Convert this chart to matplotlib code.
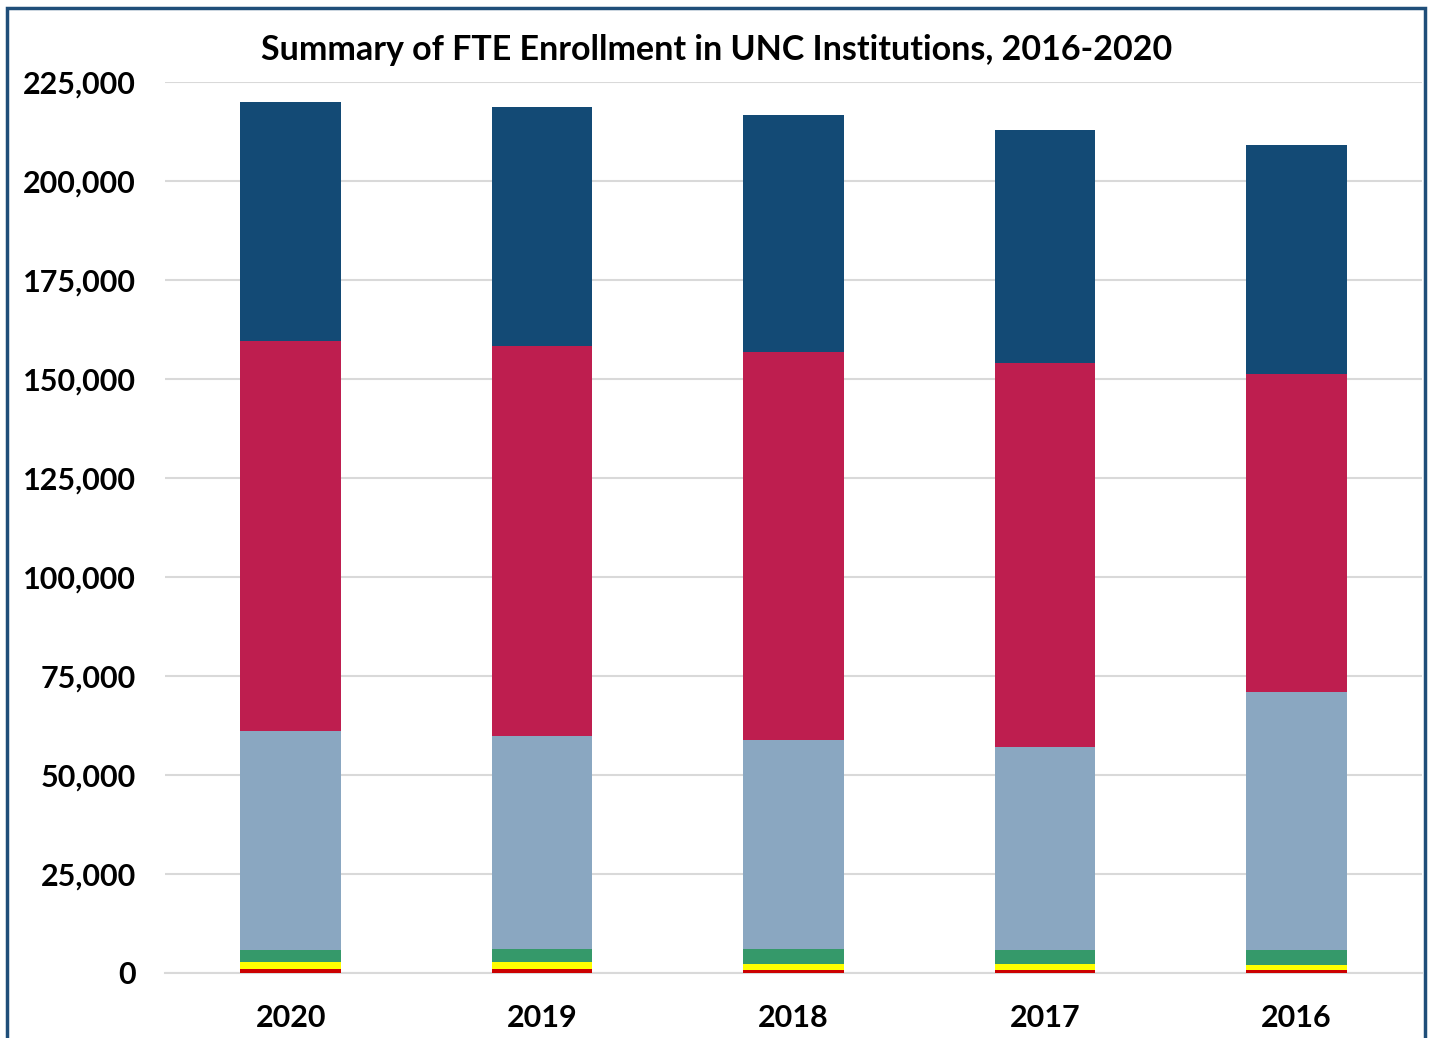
import numpy as np
import matplotlib
matplotlib.use("Agg")
import matplotlib.pyplot as plt
from matplotlib.patches import Rectangle
from matplotlib.ticker import FuncFormatter

plt.rcParams['font.family'] = ['Lato', 'DejaVu Sans']

years = ["2020", "2019", "2018", "2017", "2016"]
# stacked segments, bottom to top
seg_red = [900, 900, 800, 800, 800]
seg_yellow = [1800, 1800, 1500, 1400, 1300]
seg_green = [3000, 3300, 3700, 3600, 3700]
seg_lightblue = [55400, 53800, 52800, 51300, 65200]
seg_crimson = [98500, 98500, 98000, 96900, 80300]
seg_navy = [60400, 60400, 59900, 58900, 57800]

series = [seg_red, seg_yellow, seg_green, seg_lightblue, seg_crimson, seg_navy]
colors = ['#CC0000', '#FFFF00', '#35996A', '#8AA7C1', '#BE1E4F', '#134A75']

fig = plt.figure(figsize=(14.32, 10.38), dpi=100)
ax = fig.add_axes([165 / 1432, 1 - 973 / 1038, (1422 - 165) / 1432, (973 - 82) / 1038])

x = np.arange(len(years))
bottom = np.zeros(len(years))
for vals, c in zip(series, colors):
    ax.bar(x, vals, width=0.4, bottom=bottom, color=c, zorder=3)
    bottom += np.array(vals)

ax.set_xlim(-0.5, len(years) - 0.5)
ax.set_ylim(0, 225000)
ax.set_yticks(np.arange(0, 225001, 25000))
ax.yaxis.set_major_formatter(FuncFormatter(lambda v, p: f"{int(v):,}"))
ax.set_xticks(x)
ax.set_xticklabels(years)
ax.grid(axis='y', color='#D9D9D9', lw=1.5, zorder=0)
for s in ['top', 'right', 'left']:
    ax.spines[s].set_visible(False)
ax.spines['bottom'].set_color('#D9D9D9')
ax.spines['bottom'].set_linewidth(1.5)
ax.tick_params(length=0, labelsize=22)
ax.tick_params(axis='y', pad=21)
ax.tick_params(axis='x', pad=22)
for lbl in ax.get_xticklabels() + ax.get_yticklabels():
    lbl.set_fontweight('bold')

fig.text(717 / 1432, 1 - 50 / 1038, "Summary of FTE Enrollment in UNC Institutions, 2016-2020",
         ha='center', va='center', fontsize=24.5, fontweight='bold')

fig.patches.append(Rectangle((7 / 1432, -0.02), (1425 - 7) / 1432, 1 - 8 / 1038 + 0.02,
                             transform=fig.transFigure, fill=False,
                             edgecolor='#1F4E79', lw=2.5))

fig.savefig("out.png", dpi=100)
